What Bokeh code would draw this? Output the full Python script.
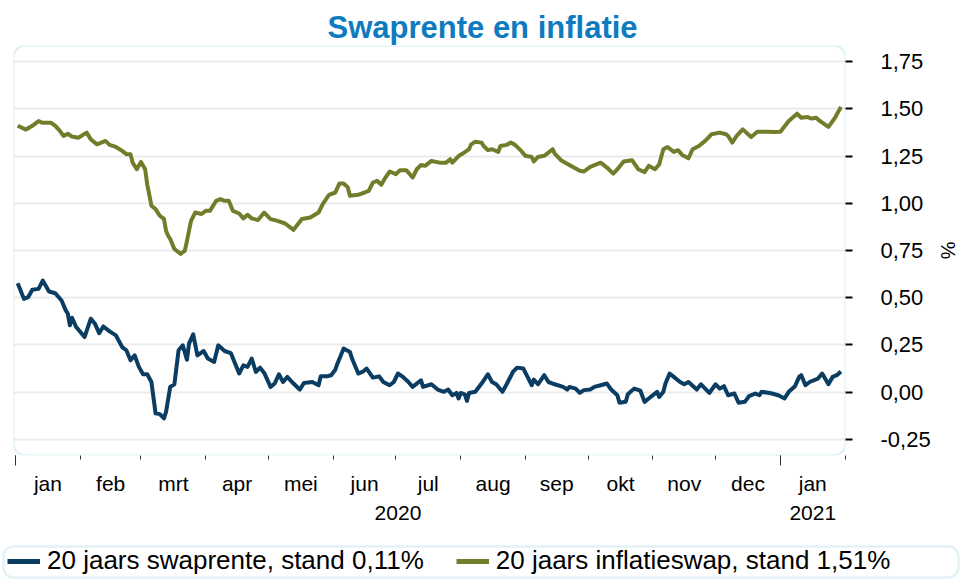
import pandas as pd
from bokeh.plotting import figure
from bokeh.layouts import column
from bokeh.models import (Range1d, FixedTicker, LinearAxis, CustomJSTickFormatter,
                          Legend, LegendItem, BoxAnnotation, ColumnDataSource)
from bokeh.embed import file_html
from bokeh.resources import INLINE

FONT = "Liberation Sans"
SWAP_COLOR = "#0b3d62"
INFL_COLOR = "#737c2b"
FRAME_COLOR = "#a2d5e6"
TITLE_COLOR = "#0f7bbf"

# ---------------- data ----------------
swap_dates = [
    "2020-01-02", "2020-01-05", "2020-01-07", "2020-01-09", "2020-01-12", "2020-01-14", "2020-01-17",
    "2020-01-20", "2020-01-23", "2020-01-25", "2020-01-26", "2020-01-27", "2020-01-28", "2020-01-30",
    "2020-02-03", "2020-02-06", "2020-02-08", "2020-02-10", "2020-02-12", "2020-02-15",
    "2020-02-18", "2020-02-21", "2020-02-23", "2020-02-25", "2020-02-27", "2020-02-29",
    "2020-03-02", "2020-03-04", "2020-03-06", "2020-03-08", "2020-03-10", "2020-03-12", "2020-03-13", "2020-03-15",
    "2020-03-17", "2020-03-19", "2020-03-21", "2020-03-23", "2020-03-24", "2020-03-26", "2020-03-28", "2020-03-31",
    "2020-04-02", "2020-04-05", "2020-04-07", "2020-04-10", "2020-04-13", "2020-04-17",
    "2020-04-19", "2020-04-21", "2020-04-23", "2020-04-25", "2020-04-27", "2020-04-29",
    "2020-05-02", "2020-05-04", "2020-05-06", "2020-05-08", "2020-05-10", "2020-05-13", "2020-05-16",
    "2020-05-18", "2020-05-22", "2020-05-25", "2020-05-26", "2020-05-29", "2020-05-31",
    "2020-06-02", "2020-06-03", "2020-06-06", "2020-06-09", "2020-06-10", "2020-06-13", "2020-06-15",
    "2020-06-17", "2020-06-20", "2020-06-23", "2020-06-25", "2020-06-28", "2020-06-30",
    "2020-07-02", "2020-07-04", "2020-07-07", "2020-07-09", "2020-07-13", "2020-07-14", "2020-07-18",
    "2020-07-21", "2020-07-24", "2020-07-26", "2020-07-28", "2020-07-30", "2020-07-31",
    "2020-08-01", "2020-08-03", "2020-08-04", "2020-08-05", "2020-08-08", "2020-08-11", "2020-08-14",
    "2020-08-16", "2020-08-18", "2020-08-21", "2020-08-23", "2020-08-26", "2020-08-28", "2020-08-31",
    "2020-09-02", "2020-09-04", "2020-09-05", "2020-09-07", "2020-09-10", "2020-09-12", "2020-09-15",
    "2020-09-19", "2020-09-21", "2020-09-22", "2020-09-25", "2020-09-27", "2020-09-29",
    "2020-10-02", "2020-10-04", "2020-10-07", "2020-10-10", "2020-10-12", "2020-10-15", "2020-10-16",
    "2020-10-19", "2020-10-20", "2020-10-23", "2020-10-26", "2020-10-28", "2020-10-30",
    "2020-11-03", "2020-11-04", "2020-11-06", "2020-11-07", "2020-11-09", "2020-11-11",
    "2020-11-14", "2020-11-16", "2020-11-18", "2020-11-22", "2020-11-24", "2020-11-28",
    "2020-12-01", "2020-12-03", "2020-12-05", "2020-12-07", "2020-12-10", "2020-12-12", "2020-12-15",
    "2020-12-17", "2020-12-20", "2020-12-22", "2020-12-23", "2020-12-27", "2020-12-31",
    "2021-01-03", "2021-01-05", "2021-01-08", "2021-01-10", "2021-01-11", "2021-01-13", "2021-01-15",
    "2021-01-19", "2021-01-21", "2021-01-24", "2021-01-26", "2021-01-28", "2021-01-30",
]
swap_values = [
    0.577, 0.494, 0.503, 0.542, 0.547, 0.591, 0.533,
    0.524, 0.485, 0.433, 0.415, 0.354, 0.394, 0.345,
    0.292, 0.389, 0.362, 0.313, 0.348, 0.322,
    0.301, 0.239, 0.222, 0.169, 0.195, 0.134,
    0.095, 0.095, 0.054, -0.112, -0.116, -0.139, -0.104, 0.028,
    0.042, 0.222, 0.248, 0.172, 0.257, 0.306, 0.195, 0.218,
    0.178, 0.160, 0.248, 0.218, 0.207, 0.099,
    0.142, 0.134, 0.178, 0.107, 0.130, 0.102,
    0.028, 0.046, 0.095, 0.054, 0.081, 0.046, 0.014,
    0.049, 0.054, 0.037, 0.084, 0.084, 0.090,
    0.119, 0.151, 0.231, 0.213, 0.178, 0.099, 0.107,
    0.125, 0.077, 0.084, 0.054, 0.037, 0.054,
    0.099, 0.084, 0.054, 0.028, 0.063, 0.028, 0.042,
    0.014, 0.002, 0.014, -0.016, -0.004, -0.033,
    -0.004, -0.011, -0.046, -0.004, 0.002, 0.046, 0.095,
    0.054, 0.042, 0.002, 0.042, 0.107, 0.130, 0.125,
    0.081, 0.037, 0.067, 0.042, 0.090, 0.054, 0.042,
    0.028, 0.014, 0.028, 0.019, -0.004, 0.011,
    0.014, 0.028, 0.037, 0.046, 0.014, -0.016, -0.056,
    -0.051, -0.011, 0.019, 0.008, -0.051, -0.033,
    0.002, -0.025, 0.002, 0.046, 0.099, 0.081,
    0.054, 0.042, 0.054, 0.014, 0.042, -0.004,
    0.042, 0.019, 0.032, -0.016, -0.007, -0.056, -0.051,
    -0.021, -0.007, -0.016, 0.002, -0.004, -0.016,
    -0.033, 0.002, 0.032, 0.081, 0.090, 0.037, 0.054,
    0.072, 0.099, 0.042, 0.081, 0.090, 0.110,
]

infl_dates = [
    "2020-01-02", "2020-01-06", "2020-01-09", "2020-01-12", "2020-01-14", "2020-01-18",
    "2020-01-20", "2020-01-22", "2020-01-24", "2020-01-26", "2020-01-28", "2020-01-31",
    "2020-02-04", "2020-02-06", "2020-02-09", "2020-02-13", "2020-02-15", "2020-02-18",
    "2020-02-21", "2020-02-23", "2020-02-25", "2020-02-26", "2020-02-28",
    "2020-03-01", "2020-03-03", "2020-03-04", "2020-03-06", "2020-03-08", "2020-03-10", "2020-03-12", "2020-03-13",
    "2020-03-14", "2020-03-15", "2020-03-17", "2020-03-20", "2020-03-22", "2020-03-23", "2020-03-24", "2020-03-25",
    "2020-03-27", "2020-03-30",
    "2020-04-01", "2020-04-03", "2020-04-06", "2020-04-08", "2020-04-10", "2020-04-12", "2020-04-14",
    "2020-04-17", "2020-04-19", "2020-04-21", "2020-04-23", "2020-04-26", "2020-04-29",
    "2020-05-02", "2020-05-05", "2020-05-09", "2020-05-13", "2020-05-17", "2020-05-21", "2020-05-25",
    "2020-05-27", "2020-05-30",
    "2020-06-02", "2020-06-04", "2020-06-06", "2020-06-08", "2020-06-09", "2020-06-13", "2020-06-16",
    "2020-06-18", "2020-06-20", "2020-06-22", "2020-06-24", "2020-06-26", "2020-06-28",
    "2020-07-01", "2020-07-03", "2020-07-06", "2020-07-09", "2020-07-11", "2020-07-13", "2020-07-15",
    "2020-07-18", "2020-07-22", "2020-07-25", "2020-07-27", "2020-07-28", "2020-07-31",
    "2020-08-02", "2020-08-05", "2020-08-06", "2020-08-08", "2020-08-11", "2020-08-12", "2020-08-14",
    "2020-08-16", "2020-08-19", "2020-08-20", "2020-08-23", "2020-08-25", "2020-08-27", "2020-08-30",
    "2020-09-01", "2020-09-04", "2020-09-05", "2020-09-07", "2020-09-10", "2020-09-14", "2020-09-15",
    "2020-09-18", "2020-09-22", "2020-09-27", "2020-09-29",
    "2020-10-02", "2020-10-07", "2020-10-10", "2020-10-13", "2020-10-15", "2020-10-18", "2020-10-22",
    "2020-10-25", "2020-10-28", "2020-10-30",
    "2020-11-02", "2020-11-04", "2020-11-06", "2020-11-08", "2020-11-11", "2020-11-13", "2020-11-15",
    "2020-11-18", "2020-11-20", "2020-11-23", "2020-11-26", "2020-11-29",
    "2020-12-03", "2020-12-06", "2020-12-07", "2020-12-09", "2020-12-11", "2020-12-14", "2020-12-18",
    "2020-12-21", "2020-12-26", "2020-12-29",
    "2021-01-01", "2021-01-05", "2021-01-09", "2021-01-11", "2021-01-14", "2021-01-16", "2021-01-18",
    "2021-01-20", "2021-01-24", "2021-01-27", "2021-01-30",
]
infl_values = [
    1.410, 1.390, 1.410, 1.435, 1.426, 1.426,
    1.410, 1.386, 1.356, 1.368, 1.353, 1.347,
    1.374, 1.338, 1.312, 1.330, 1.309, 1.298,
    1.277, 1.260, 1.260, 1.215, 1.180,
    1.219, 1.180, 1.100, 0.987, 0.969, 0.934, 0.917, 0.855,
    0.828, 0.811, 0.758, 0.732, 0.749, 0.800, 0.855, 0.908,
    0.951, 0.943,
    0.960, 0.960, 1.013, 1.022, 1.013, 1.013, 0.960,
    0.946, 0.920, 0.939, 0.920, 0.911, 0.951,
    0.916, 0.908, 0.893, 0.859, 0.917, 0.925, 0.951,
    0.995, 1.045,
    1.057, 1.105, 1.105, 1.084, 1.040, 1.045, 1.057,
    1.066, 1.110, 1.119, 1.098, 1.136, 1.168,
    1.154, 1.175, 1.175, 1.136, 1.180, 1.203, 1.198,
    1.224, 1.215, 1.215, 1.233, 1.215, 1.250,
    1.263, 1.286, 1.312, 1.326, 1.321, 1.303, 1.281,
    1.286, 1.272, 1.303, 1.309, 1.321, 1.309, 1.277,
    1.251, 1.245, 1.221, 1.245, 1.251, 1.286, 1.263,
    1.228, 1.203, 1.172, 1.168,
    1.193, 1.215, 1.189, 1.157, 1.180, 1.221, 1.228,
    1.180, 1.165, 1.198,
    1.180, 1.206, 1.286, 1.298, 1.272, 1.281, 1.256,
    1.238, 1.286, 1.303, 1.330, 1.365,
    1.374, 1.365, 1.356, 1.321, 1.356, 1.391, 1.351,
    1.379, 1.379, 1.377,
    1.379, 1.435, 1.474, 1.453, 1.456, 1.448, 1.453,
    1.435, 1.404, 1.450, 1.510,
]

month_labels = ["jan", "feb", "mrt", "apr", "mei", "jun", "jul",
                "aug", "sep", "okt", "nov", "dec", "jan"]
year_labels = ["2020", "2021"]
y_ticks = [-0.25, 0.0, 0.25, 0.5, 0.75, 1.0, 1.25, 1.5, 1.75]
swap_name = "20 jaars swaprente"
infl_name = "20 jaars inflatieswap"


def ms(d):
    return pd.Timestamp(d).value / 1e6


x_start = ms("2019-12-31")
x_end = ms("2021-02-01 04:00")
month_ms = [ms(d) for d in pd.date_range("2020-01-01", "2021-02-01", freq="MS")]
mid_ms = [(a + b) / 2 for a, b in zip(month_ms[:-1], month_ms[1:])]
year_ms = [ms("2020-01-01"), ms("2021-01-01")]
year_mid = [(year_ms[0] + year_ms[1]) / 2, (year_ms[1] + month_ms[-1]) / 2]

# ---------------- main chart ----------------
p = figure(width=961, height=543, x_axis_type="datetime",
           x_axis_location=None, y_axis_location="right",
           x_range=Range1d(x_start, x_end), y_range=Range1d(-0.335, 1.835),
           toolbar_location=None, output_backend="svg",
           min_border_left=13, min_border_right=110,
           min_border_top=45, min_border_bottom=88)
p.outline_line_color = None
p.background_fill_color = "white"
p.border_fill_color = "white"

# title (left aligned + offset so it sits centred on the page)
p.title.text = "Swaprente en inflatie"
p.title.align = "left"
p.title.offset = 314
p.title.text_font = FONT
p.title.text_font_size = "31px"
p.title.text_font_style = "bold"
p.title.text_color = TITLE_COLOR
p.title.standoff = 1

# grid
p.xgrid.visible = False
p.ygrid.ticker = FixedTicker(ticks=y_ticks)
p.ygrid.grid_line_color = "#ececec"
p.ygrid.grid_line_width = 2

# right axis
yax = p.yaxis[0]
yax.ticker = FixedTicker(ticks=y_ticks, minor_ticks=[])
yax.formatter = CustomJSTickFormatter(code="return tick.toFixed(2).replace('.', ',');")
yax.axis_line_color = None
yax.major_tick_out = 7
yax.major_tick_in = 0
yax.minor_tick_out = 0
yax.minor_tick_in = 0
yax.major_tick_line_color = "black"
yax.major_tick_line_width = 2
yax.major_label_text_font = FONT
yax.major_label_text_font_size = "22px"
yax.major_label_text_color = "black"
yax.major_label_standoff = 28
yax.axis_label = "%"
yax.axis_label_text_font = FONT
yax.axis_label_text_font_size = "20px"
yax.axis_label_text_font_style = "normal"
yax.axis_label_text_color = "black"
yax.axis_label_standoff = 3

# x axis: tick marks at month/year boundaries
ax1 = LinearAxis(ticker=FixedTicker(ticks=year_ms, minor_ticks=month_ms),
                 formatter=CustomJSTickFormatter(code="return ' ';"),
                 axis_line_color=None,
                 major_tick_out=10, major_tick_in=0,
                 minor_tick_out=4, minor_tick_in=0,
                 major_tick_line_color="#333333", minor_tick_line_color="#333333",
                 major_label_text_font_size="2px", major_label_standoff=0)
# month labels centred between boundaries
ax2 = LinearAxis(ticker=FixedTicker(ticks=mid_ms, minor_ticks=[]),
                 formatter=CustomJSTickFormatter(args=dict(labels=month_labels),
                                                 code="return labels[index];"),
                 axis_line_color=None, major_tick_out=0, major_tick_in=0,
                 minor_tick_out=0, minor_tick_in=0,
                 major_label_text_font=FONT, major_label_text_font_size="21px",
                 major_label_text_color="black", major_label_standoff=1)
# year labels
ax3 = LinearAxis(ticker=FixedTicker(ticks=year_mid, minor_ticks=[]),
                 formatter=CustomJSTickFormatter(args=dict(labels=year_labels),
                                                 code="return labels[index];"),
                 axis_line_color=None, major_tick_out=0, major_tick_in=0,
                 minor_tick_out=0, minor_tick_in=0,
                 major_label_text_font=FONT, major_label_text_font_size="21px",
                 major_label_text_color="black", major_label_standoff=8)
p.add_layout(ax1, "below")
p.add_layout(ax2, "below")
p.add_layout(ax3, "below")

# lines
src_i = ColumnDataSource(dict(x=pd.to_datetime(infl_dates), y=infl_values))
src_s = ColumnDataSource(dict(x=pd.to_datetime(swap_dates), y=swap_values))
p.line("x", "y", source=src_i, line_color=INFL_COLOR, line_width=4, line_join="round")
p.line("x", "y", source=src_s, line_color=SWAP_COLOR, line_width=4, line_join="round")

# rounded frame border
box = BoxAnnotation(left=p.x_range.start, right=p.x_range.end,
                    bottom=p.y_range.start, top=p.y_range.end,
                    fill_color=None, fill_alpha=0,
                    line_color=FRAME_COLOR, line_width=2.5, level="overlay")
if "border_radius" in BoxAnnotation.properties():
    box.border_radius = 12
p.add_layout(box)


def stand(v):
    return f"{v:.2f}".replace(".", ",")


# ---------------- legend strip ----------------
LEG_H = 36
q = figure(width=961, height=LEG_H, x_range=Range1d(0, 1), y_range=Range1d(0, 1),
           x_axis_location=None, y_axis_location=None,
           toolbar_location=None, output_backend="svg", min_border=0)
q.outline_line_color = None
q.grid.visible = False
q.background_fill_color = "white"
q.border_fill_color = "white"
for fig in (p, q):
    if "frame_align" in fig.properties():
        fig.frame_align = False

# legend proxies: single-point lines (draw nothing themselves)
leg_s = q.line(x=[-1], y=[-1], line_color=SWAP_COLOR, line_width=5)
leg_i = q.line(x=[-1], y=[-1], line_color=INFL_COLOR, line_width=5)

leg_box = BoxAnnotation(left=3, right=958, bottom=2, top=33,
                        left_units="screen", right_units="screen",
                        bottom_units="screen", top_units="screen",
                        fill_color="white", fill_alpha=1,
                        line_color=FRAME_COLOR, line_width=2.5, level="underlay")
if "border_radius" in BoxAnnotation.properties():
    leg_box.border_radius = 10
q.add_layout(leg_box)

legend = Legend(items=[
    LegendItem(label=f"{swap_name}, stand {stand(swap_values[-1])}%", renderers=[leg_s]),
    LegendItem(label=f"{infl_name}, stand {stand(infl_values[-1])}%", renderers=[leg_i]),
], orientation="horizontal", location=(7, 3))
legend.label_text_font = FONT
legend.label_text_font_size = "26px"
legend.label_text_color = "black"
legend.glyph_width = 33
legend.label_standoff = 7
legend.spacing = 32
legend.padding = 0
legend.margin = 0
legend.border_line_color = None
legend.background_fill_alpha = 0
q.add_layout(legend, "center")

layout = column(p, q, spacing=0)
open("out.html", "w").write(file_html(layout, INLINE))
